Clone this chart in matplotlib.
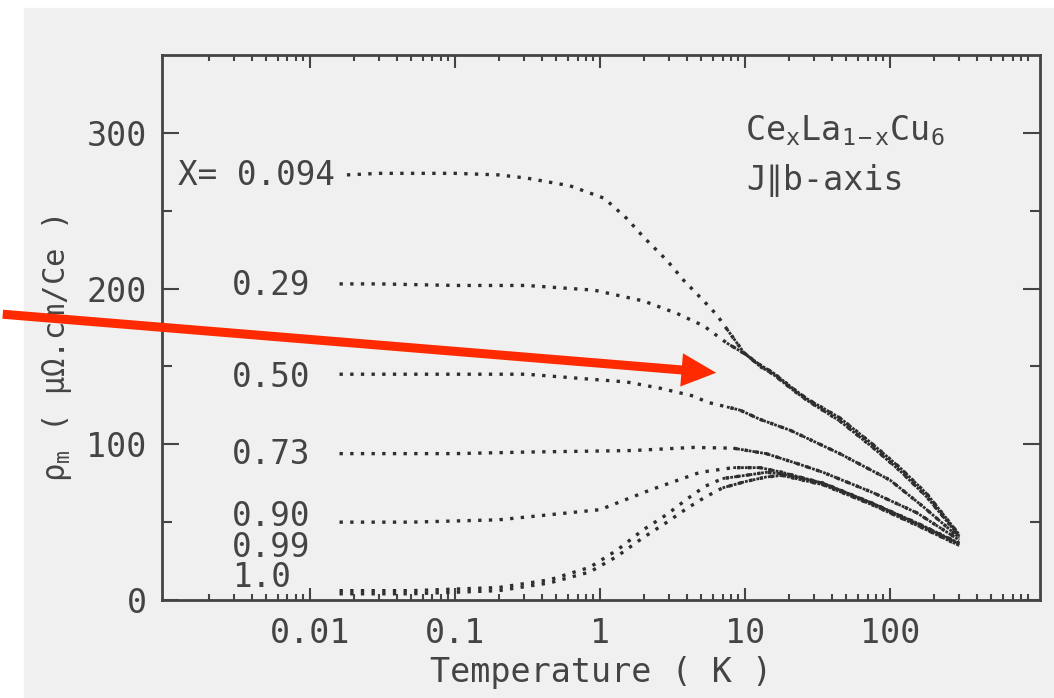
import numpy as np
import matplotlib
matplotlib.use('Agg')
import matplotlib.pyplot as plt
from matplotlib.patches import Rectangle, FancyArrowPatch
from matplotlib.transforms import IdentityTransform

plt.rcParams['font.family'] = ['DejaVu Sans Mono', 'DejaVu Sans']
plt.rcParams['mathtext.fontset'] = 'custom'
plt.rcParams['mathtext.rm'] = 'DejaVu Sans Mono'
plt.rcParams['mathtext.it'] = 'DejaVu Sans Mono'

# magnetic resistivity (uOhm cm / Ce) vs temperature (K), CexLa1-xCu6, J // b
T_094 = [0.018, 0.03, 0.05, 0.1, 0.2, 0.31, 0.62, 1.07, 1.53, 2.0, 2.9, 3.8, 5.2, 6.4,
         7.5, 9.8, 12.7, 15.6, 22, 27, 45, 76, 117, 180, 300]
rho_094 = [273, 274, 274, 274, 273, 271, 266, 258, 245, 233, 218, 205, 192, 183,
           174, 159, 150, 145, 134, 128, 115, 98, 83, 66, 41]

T_029 = [0.016, 0.03, 0.1, 0.31, 0.91, 2.0, 3.4, 5.2, 7.5, 10, 12.7, 15.6, 22, 27,
         45, 76, 117, 180, 300]
rho_029 = [203, 203, 202, 202, 199, 192, 184, 176, 165, 158, 151, 146, 135, 129,
           117, 100, 85, 68, 42]

T_050 = [0.016, 0.1, 0.31, 1.53, 2.6, 4.4, 5.5, 7.5, 9.2, 12.7, 20.5, 45, 100, 169, 300]
rho_050 = [145, 145, 145, 140, 136, 131, 127, 124, 122, 116, 109, 94, 77, 60, 40]

T_073 = [0.016, 0.1, 0.31, 1.7, 4.4, 8.3, 14, 24, 34.5, 76, 153, 300]
rho_073 = [94, 94, 95, 96, 98, 97.5, 94, 87, 82, 69, 56, 38.5]

T_090 = [0.016, 0.05, 0.2, 1.0, 2.2, 4.9, 8.3, 12.7, 18, 34.5, 76, 153, 300]
rho_090 = [50, 50, 51.5, 58, 70.5, 82, 85, 85, 82, 75, 62, 49.5, 36.5]

T_099 = [0.016, 0.05, 0.2, 0.45, 0.85, 1.31, 1.98, 2.9, 4.0, 5.3, 7, 10, 14, 18,
         34.5, 76, 153, 300]
rho_099 = [6, 6, 8, 13, 21, 32, 45, 55, 65, 73, 78, 80, 82, 81, 75, 62, 49, 36]

T_100 = [0.016, 0.05, 0.2, 0.45, 0.85, 1.31, 1.98, 2.9, 4.0, 5.3, 7, 10, 14, 18,
         34.5, 76, 153, 300]
rho_100 = [4, 4, 6, 11, 18, 28, 40, 50, 59, 66, 72, 76, 79, 80, 74, 61, 48, 35]

series = [(T_094, rho_094), (T_029, rho_029), (T_050, rho_050), (T_073, rho_073),
          (T_090, rho_090), (T_099, rho_099), (T_100, rho_100)]

# concentration labels: text, left x (K), baseline y of last line
conc_labels = ['X= 0.094', '0.29', '0.50', '0.73', '0.90\n0.99\n1.0']
label_x = [0.00123, 0.0029, 0.0029, 0.0029, 0.0029]
label_y = [266.5, 196, 137, 87.5, 8.3]

W, H = 1054, 698
fig = plt.figure(figsize=(W / 100, H / 100), dpi=100, facecolor='white')
bg = '#f0f0f0'
fig.patches.append(Rectangle((24 / W, 0), 1 - 24 / W, 1 - 8 / H,
                             transform=fig.transFigure, color=bg, zorder=-5))

ax = fig.add_axes([162 / W, 98 / H, 878 / W, 545 / H])
ax.set_facecolor(bg)
ax.set_xscale('log')
ax.set_xlim(10 ** -3.02, 10 ** 3.034)
ax.set_ylim(0, 350)

ink = '#2e2e2e'
for T, rho in series:
    T = np.array(T)
    rho = np.array(rho)
    # sparse dots at low T, nearly continuous trace at high T
    ax.plot(T, rho, color=ink, lw=2.4, ls=(0, (1, 2.2)))
    hi = T >= 7
    ax.plot(T[hi], rho[hi], color=ink, lw=2.0, ls=(0, (1, 0.4)))

for txt, x, y in zip(conc_labels, label_x, label_y):
    ax.text(x, y, txt, fontsize=23.5, color='#444444', ha='left', va='baseline',
            linespacing=0.9)

ax.text(10.0, 295.5, r'Ce$_{\rm x}$La$_{\rm 1-x}$Cu$_{\rm 6}$', fontsize=24,
        color='#444444', ha='left', va='baseline')
ax.text(10.2, 263, 'J\u2225b-axis', fontsize=24, color='#444444',
        ha='left', va='baseline')

ax.set_yticks([0, 100, 200, 300])
ax.set_yticks([50, 150, 250], minor=True)
ax.set_xticks([0.01, 0.1, 1, 10, 100])
ax.set_xticklabels(['0.01', '0.1', '1', '10', '100'])
ax.xaxis.set_minor_locator(matplotlib.ticker.LogLocator(base=10, subs=np.arange(2, 10)))
ax.xaxis.set_minor_formatter(matplotlib.ticker.NullFormatter())

ax.tick_params(axis='both', which='both', direction='in', top=True, right=True,
               colors='#444444', labelsize=24, width=1.5)
ax.tick_params(axis='y', which='major', length=12, pad=11)
ax.tick_params(axis='y', which='minor', length=7)
ax.tick_params(axis='x', which='major', length=9, pad=12)
ax.tick_params(axis='x', which='minor', length=4.5)
for s in ax.spines.values():
    s.set_color('#444444')
    s.set_linewidth(2)

fig.text(601 / W, (H - 682) / H, 'Temperature ( K )', fontsize=24, color='#444444',
         ha='center', va='baseline')
fig.text(57 / W, (H - 349) / H, r'$\rho_{\rm m}$ ( μΩ.cm/Ce )', fontsize=22,
         color='#444444', ha='center', va='center', rotation=90)

# red pointer arrow
arrow = FancyArrowPatch((0, H - 314), (719, H - 373), transform=IdentityTransform(),
                        arrowstyle='simple,head_length=25,head_width=24,tail_width=6.5',
                        mutation_scale=1, color='#ff2a00', lw=0, zorder=10)
fig.patches.append(arrow)

fig.savefig('out.png', dpi=100, facecolor=fig.get_facecolor())
